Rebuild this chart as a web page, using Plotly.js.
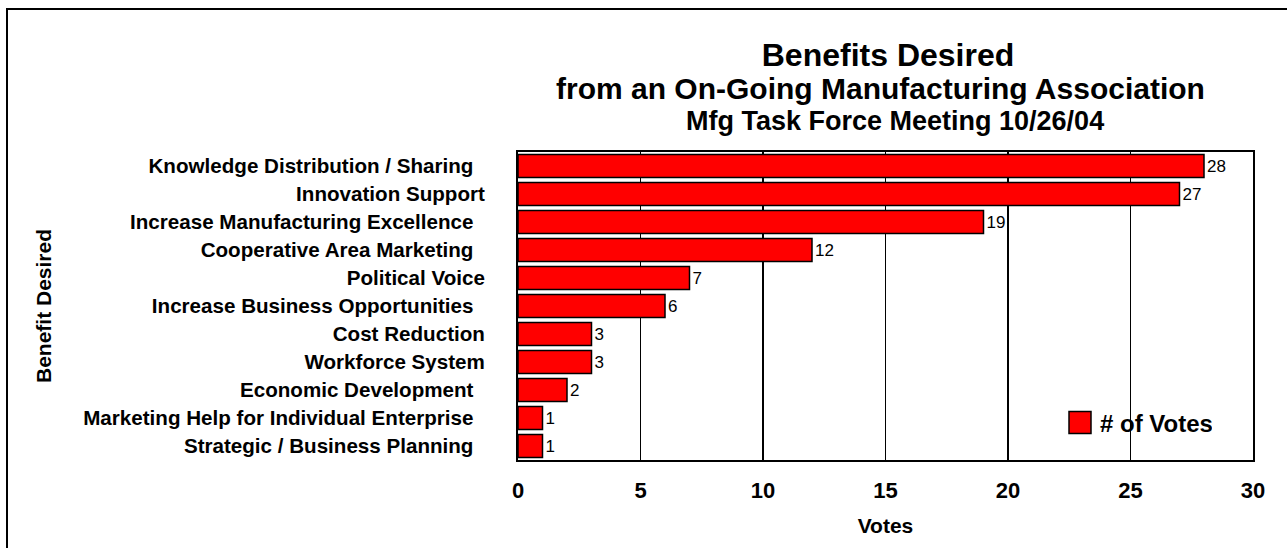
<!DOCTYPE html>
<html>
<head>
<meta charset="utf-8">
<script src="https://cdn.plot.ly/plotly-3.0.1.min.js"></script>
<style>
  html, body { margin: 0; padding: 0; background: #ffffff; }
  #chart { width: 1287px; height: 548px; }
</style>
</head>
<body>
<div id="chart"></div>
<script>
// Categories, top to bottom as shown (trailing space kept where the label has one)
const categories = [
  "Knowledge Distribution / Sharing ",
  "Innovation Support",
  "Increase Manufacturing Excellence ",
  "Cooperative Area Marketing ",
  "Political Voice",
  "Increase Business Opportunities ",
  "Cost Reduction",
  "Workforce System",
  "Economic Development ",
  "Marketing Help for Individual Enterprise ",
  "Strategic / Business Planning "
];
const votes = [28, 27, 19, 12, 7, 6, 3, 3, 2, 1, 1];
const xTickVals = [0, 5, 10, 15, 20, 25, 30];
const seriesName = "# of Votes";
const titleText = "Benefits Desired";
const subtitleText = "from an On-Going Manufacturing Association";
const subtitle2Text = "Mfg Task Force Meeting 10/26/04";
const xTitle = "Votes";
const yTitle = "Benefit Desired";

const FONT = "Arial, 'Liberation Sans', Helvetica, sans-serif";
const tickText = categories.map(c => c.replace(/ $/, "\u00a0\u00a0"));

// plot area: x 518..1253, y 152..460
const L = 518, R = 1287 - 1253, T = 152, B = 548 - 460;
const PW = 1287 - L - R, PH = 548 - T - B;
const px2x = p => (p - L) / PW;
const px2y = p => (548 - B - p) / PH;

const trace = {
  type: "bar",
  orientation: "h",
  y: categories,
  x: votes,
  name: seriesName,
  text: votes.map(String),
  textposition: "outside",
  cliponaxis: false,
  textfont: { family: FONT, size: 17, color: "#000000" },
  marker: { color: "#ff0000", line: { color: "#000000", width: 1.5 } },
  hoverinfo: "x+y",
  showlegend: true
};

const layout = {
  width: 1287,
  height: 548,
  margin: { l: L, r: R, t: T, b: B, pad: 0 },
  paper_bgcolor: "#ffffff",
  plot_bgcolor: "#ffffff",
  font: { family: FONT, color: "#000000" },
  bargap: 0.18,
  title: {
    text: "<b>" + titleText + "</b>",
    font: { family: FONT, size: 32, color: "#000000" },
    xref: "paper", x: px2x(888), xanchor: "center",
    yref: "container", y: 1 - 55 / 548, yanchor: "middle"
  },
  annotations: [
    { text: "<b>" + subtitleText + "</b>", xref: "paper", yref: "paper",
      x: px2x(880), y: px2y(89), xanchor: "center", yanchor: "middle", showarrow: false,
      font: { family: FONT, size: 30, color: "#000000" } },
    { text: "<b>" + subtitle2Text + "</b>", xref: "paper", yref: "paper",
      x: px2x(895), y: px2y(121), xanchor: "center", yanchor: "middle", showarrow: false,
      font: { family: FONT, size: 27, color: "#000000" } }
  ],
  xaxis: {
    range: [0, 30],
    tickvals: xTickVals,
    ticktext: xTickVals.map(v => "<b>" + v + "</b>"),
    tickfont: { family: FONT, size: 22, color: "#000000" },
    ticks: "",
    ticklabelstandoff: 10,
    showgrid: true, gridcolor: "#000000", gridwidth: 1.5,
    zeroline: false,
    showline: true, linecolor: "#000000", linewidth: 2, mirror: true,
    fixedrange: true,
    title: { text: "<b>" + xTitle + "</b>", font: { family: FONT, size: 21, color: "#000000" }, standoff: 16 }
  },
  yaxis: {
    type: "category",
    autorange: "reversed",
    tickvals: categories,
    ticktext: tickText.map(t => "<b>" + t + "</b>"),
    tickfont: { family: FONT, size: 20.6, color: "#000000" },
    ticks: "",
    ticklabelstandoff: 27,
    showgrid: false,
    zeroline: false,
    showline: true, linecolor: "#000000", linewidth: 2, mirror: true,
    fixedrange: true,
    title: { text: "<b>" + yTitle + "</b>", font: { family: FONT, size: 21, color: "#000000" }, standoff: 26 }
  },
  legend: {
    x: px2x(1060), y: px2y(423), xanchor: "left", yanchor: "middle",
    xref: "paper", yref: "paper",
    bgcolor: "rgba(0,0,0,0)", borderwidth: 0,
    font: { family: FONT, size: 24, color: "#000000" }
  },
  shapes: [
    { type: "path", xref: "paper", yref: "paper", layer: "above",
      path: "M " + px2x(7) + " " + px2y(560) + " L " + px2x(7) + " " + px2y(9) + " L " + px2x(1300) + " " + px2y(9),
      line: { color: "#000000", width: 2 } }
  ],
  hovermode: false
};

Plotly.newPlot("chart", [trace], layout, { displayModeBar: false, staticPlot: true }).then(gd => {
  // enlarge the legend swatch to match the picture
  gd.querySelectorAll(".legend .legendpoints path").forEach(p => {
    p.setAttribute("d", "M11,11H-11V-11H11Z");
  });
  gd.querySelectorAll(".legend .legendtext").forEach(t => {
    t.style.fontWeight = "bold";
  });
});
</script>
</body>
</html>
